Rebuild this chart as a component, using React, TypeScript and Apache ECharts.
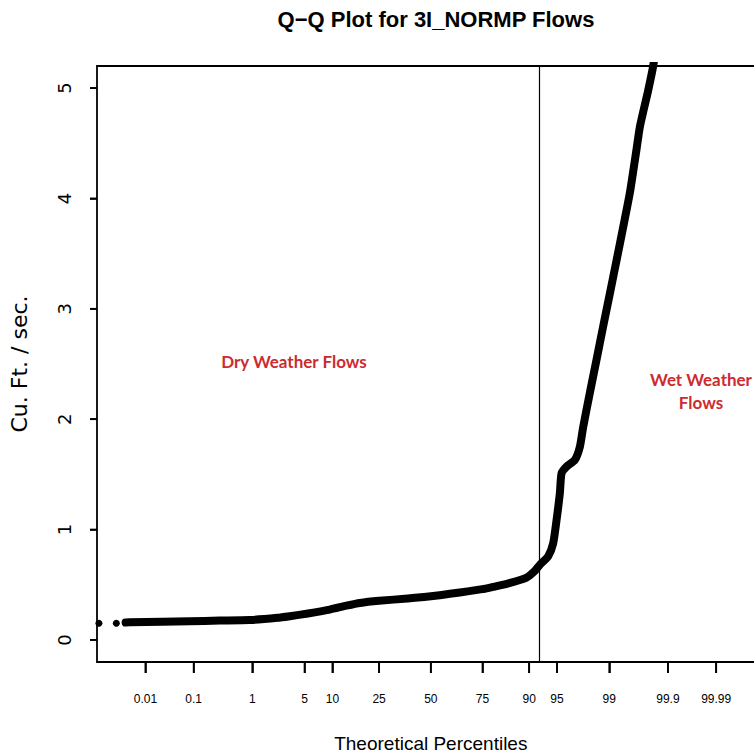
import React, { useEffect, useRef } from "react";
import * as echarts from "echarts";

// Percentile tick labels and their standard-normal positions (z)
const percentileLabels = ["0.01", "0.1", "1", "5", "10", "25", "50", "75", "90", "95", "99", "99.9", "99.99"];
const percentileZ = [-3.719, -3.09, -2.326, -1.645, -1.282, -0.674, 0, 0.674, 1.282, 1.645, 2.326, 3.09, 3.719];
const yTicks = [0, 1, 2, 3, 4, 5];

// Q-Q curve: theoretical quantile (z) and flow (cfs)
const curveZ = [-3.977, -3.924, -3.5, -3.142, -2.75, -2.36, -2.0, -1.838, -1.6, -1.317, -1.1, -0.926, -0.674, -0.3, 0, 0.378, 0.674, 0.808, 1.0, 1.248, 1.356, 1.421, 1.529, 1.595, 1.639, 1.682, 1.704, 1.769, 1.877, 1.943, 1.986, 2.073, 2.16, 2.246, 2.334, 2.421, 2.507, 2.594, 2.682, 2.725, 2.833, 2.898, 2.95];
const curveQ = [0.157, 0.16, 0.165, 0.17, 0.175, 0.18, 0.2, 0.215, 0.24, 0.275, 0.31, 0.335, 0.355, 0.375, 0.395, 0.43, 0.46, 0.48, 0.51, 0.565, 0.625, 0.68, 0.757, 0.876, 1.087, 1.33, 1.51, 1.57, 1.63, 1.75, 1.93, 2.24, 2.54, 2.84, 3.14, 3.44, 3.74, 4.05, 4.45, 4.65, 4.98, 5.2, 5.45];
// Isolated lowest points
const lowZ = [-4.325, -4.098];
const lowQ = [0.151, 0.151];

const dividerZ = 1.412;
const xMin = -4.35;
const xMax = 4.35;
const yMin = -0.2;
const yMax = 5.2;

export default function App() {
  const ref = useRef<HTMLDivElement>(null);
  useEffect(() => {
    if (!ref.current) return;
    const chart = echarts.init(ref.current, null, { renderer: "svg" });
    const labelFor = (v: number) => {
      let best = 0;
      for (let i = 0; i < percentileZ.length; i++) {
        if (Math.abs(percentileZ[i] - v) < Math.abs(percentileZ[best] - v)) best = i;
      }
      return percentileLabels[best];
    };
    const frameAxisX = {
      type: "value",
      min: xMin,
      max: xMax,
      position: "top",
      axisLine: { show: true, onZero: false, lineStyle: { color: "#000", width: 1.8 } },
      axisTick: { show: false },
      axisLabel: { show: false },
      splitLine: { show: false },
    };
    const frameAxisY = {
      type: "value",
      min: yMin,
      max: yMax,
      position: "right",
      axisLine: { show: true, onZero: false, lineStyle: { color: "#000", width: 1.8 } },
      axisTick: { show: false },
      axisLabel: { show: false },
      splitLine: { show: false },
    };
    chart.setOption({
      animation: false,
      backgroundColor: "#ffffff",
      title: {
        text: "Q\u2212Q Plot for 3I_NORMP Flows",
        left: 431,
        textAlign: "center",
        top: 3,
        textStyle: { fontFamily: "Liberation Sans", fontWeight: "bold", fontSize: 22, color: "#000" },
      },
      grid: {
        left: 97,
        top: 66,
        right: 1.4,
        bottom: 91,
        outerBoundsMode: "none",
        containLabel: false,
        show: false,
      },
      xAxis: [
        {
          type: "value",
          min: xMin,
          max: xMax,
          position: "bottom",
          name: "Theoretical Percentiles",
          nameLocation: "middle",
          nameGap: 72,
          nameMoveOverlap: false,
          nameTextStyle: { fontFamily: "Liberation Sans", fontSize: 19, color: "#000" },
          axisLine: { show: true, onZero: false, lineStyle: { color: "#000", width: 1.8 } },
          splitLine: { show: false },
          axisTick: { show: true, length: 11, customValues: percentileZ, lineStyle: { color: "#000", width: 1.6 } },
          axisLabel: {
            customValues: percentileZ,
            formatter: (v: number) => labelFor(v),
            margin: 31,
            fontFamily: "Liberation Sans",
            fontSize: 12,
            color: "#000",
          },
        },
        frameAxisX,
      ],
      yAxis: [
        {
          type: "value",
          min: yMin,
          max: yMax,
          position: "left",
          name: "Cu. Ft. / sec.",
          nameLocation: "middle",
          nameRotate: 90,
          nameGap: 67,
          nameMoveOverlap: false,
          nameTextStyle: { fontFamily: "DejaVu Sans", fontSize: 22, color: "#000" },
          axisLine: { show: true, onZero: false, lineStyle: { color: "#000", width: 1.8 } },
          splitLine: { show: false },
          axisTick: { show: true, length: 7, customValues: yTicks, lineStyle: { color: "#000", width: 1.6 } },
          axisLabel: {
            customValues: yTicks,
            rotate: 90,
            margin: 24,
            fontFamily: "DejaVu Sans",
            fontSize: 18,
            color: "#000",
          },
        },
        frameAxisY,
      ],
      series: [
        {
          type: "line",
          xAxisIndex: 0,
          yAxisIndex: 0,
          data: curveZ.map((z, i) => [z, curveQ[i]]),
          showSymbol: false,
          smooth: 0.2,
          clip: true,
          lineStyle: { color: "#000", width: 8, cap: "round", join: "round" },
          markLine: {
            silent: true,
            symbol: ["none", "none"],
            label: { show: false },
            lineStyle: { color: "#000", width: 1.2, type: "solid" },
            data: [{ xAxis: dividerZ }],
          },
        },
        {
          type: "scatter",
          xAxisIndex: 0,
          yAxisIndex: 0,
          data: lowZ.map((z, i) => [z, lowQ[i]]),
          symbol: "circle",
          symbolSize: 7,
          itemStyle: { color: "#000", opacity: 1 },
          clip: false,
        },
        {
          // x-axis tick marks, below the frame
          type: "custom",
          xAxisIndex: 0,
          yAxisIndex: 0,
          silent: true,
          clip: false,
          z: 10,
          data: percentileZ.map((z) => [z, yMin]),
          renderItem: (params: any, api: any) => {
            const p = api.coord([api.value(0), api.value(1)]);
            return {
              type: "rect",
              shape: { x: p[0] - 0.9, y: p[1], width: 1.8, height: 11 },
              style: { fill: "#000" },
            };
          },
        },
        {
          // y-axis tick marks, left of the frame
          type: "custom",
          xAxisIndex: 0,
          yAxisIndex: 0,
          silent: true,
          clip: false,
          z: 10,
          data: yTicks.map((v) => [xMin, v]),
          renderItem: (params: any, api: any) => {
            const p = api.coord([api.value(0), api.value(1)]);
            return {
              type: "rect",
              shape: { x: p[0] - 7, y: p[1] - 0.9, width: 7, height: 1.8 },
              style: { fill: "#000" },
            };
          },
        },
      ],
      graphic: [
        {
          type: "text",
          x: 294,
          y: 361,
          style: {
            text: "Dry Weather Flows",
            fill: "#cc2b30",
            font: "bold 17px Lato",
            align: "center",
            verticalAlign: "middle",
          },
        },
        {
          type: "text",
          x: 701,
          y: 391,
          style: {
            text: "Wet Weather\nFlows",
            fill: "#cc2b30",
            font: "bold 17px Lato",
            lineHeight: 23,
            align: "center",
            verticalAlign: "middle",
          },
        },
      ],
    });
    return () => chart.dispose();
  }, []);
  return <div ref={ref} style={{ position: "fixed", left: 0, top: 0, width: 766, height: 753 }} />;
}
